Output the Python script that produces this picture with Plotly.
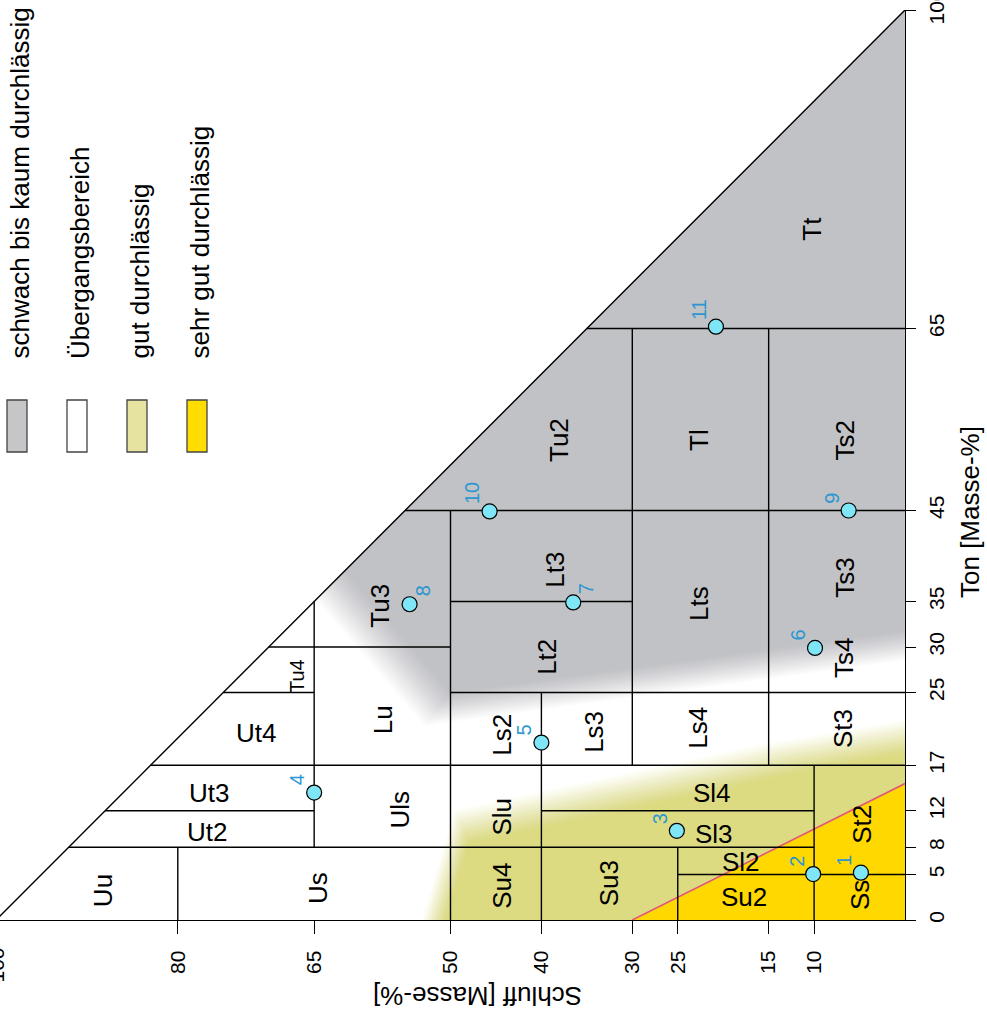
import math
import plotly.graph_objects as go

# ---------------- data (Schluff U [%], Ton T [%]) ----------------
# horizontal class boundaries: Ton value, Schluff from, Schluff to
h_T  = [5, 8, 12, 12, 17, 25, 25, 30, 35, 45, 65]
h_U0 = [0, 10, 10, 65, 0, 0, 65, 50, 30, 0, 0]
h_U1 = [25, 92, 40, 88, 83, 50, 75, 70, 50, 55, 35]
# vertical class boundaries: Schluff value, Ton from, Ton to
v_U  = [10, 15, 25, 30, 40, 50, 65, 80]
v_T0 = [0, 17, 0, 17, 0, 0, 8, 0]
v_T1 = [17, 65, 8, 65, 25, 45, 35, 8]

# soil class labels
cls_name = ["Uu", "Us", "Su4", "Su3", "Su2", "Ss", "St2", "Sl2", "Sl3", "Sl4", "Slu", "Uls",
            "Ut2", "Ut3", "Ut4", "Tu4", "Lu", "Ls2", "Ls3", "Ls4", "St3", "Lt2", "Lt3", "Lts",
            "Ts4", "Ts3", "Tu3", "Tu2", "Tl", "Ts2", "Tt"]
cls_U = [88.2, 64.6, 44.3, 32.6, 17.7, 4.95, 4.7, 18.0, 21.0, 21.2, 44.3, 55.6,
         76.8, 76.6, 71.4, 66.9, 57.5, 44.3, 34.3, 22.8, 6.8, 39.4, 38.5, 22.6,
         6.7, 6.6, 57.8, 38.0, 22.6, 6.6, 10.2]
cls_T = [3.2, 3.5, 3.8, 4.0, 2.5, 2.75, 10.5, 6.4, 9.5, 14.0, 11.4, 12.1,
         9.7, 14.0, 20.5, 26.8, 22.0, 20.4, 20.7, 21.1, 21.0, 28.9, 38.5, 34.8,
         28.8, 37.6, 34.5, 52.7, 52.7, 52.7, 76.0]
cls_horizontal = ["Su2", "Sl2", "Sl3", "Sl4", "Ut2", "Ut3", "Ut4"]
cls_small = ["Tu4"]

# sample points
pt_id = ["1", "2", "3", "4", "5", "6", "7", "8", "9", "10", "11"]
pt_U = [4.85, 10.1, 25.1, 65.0, 40.0, 9.9, 36.5, 54.5, 6.2, 45.7, 20.8]
pt_T = [5.2, 5.05, 9.8, 14.0, 19.5, 29.9, 34.9, 34.7, 45.0, 44.9, 65.2]
pt_label_right = ["7", "8"]

# permeability zones
gray_U = [0, 61.6, 50, 0]
gray_T = [100, 38.4, 25, 31.8]
olive_U = [0, 50.5, 48, 10.5, 0]
olive_T = [0, 0, 8.5, 16.5, 18.3]
yellow_U = [0, 30, 0]
yellow_T = [0, 0, 15]

legend_labels = ["schwach bis kaum durchlässig", "Übergangsbereich",
                 "gut durchlässig", "sehr gut durchlässig"]

x_ticks = [10, 15, 25, 30, 40, 50, 65, 80, 100]
y_ticks = [0, 5, 8, 12, 17, 25, 30, 35, 45, 65, 100]

# ---------------- styles ----------------
FONT = "Liberation Sans, Arial, Helvetica, sans-serif"
GRAY = (193, 194, 197)
OLIVE = (220, 219, 130)
YELLOW = "#FFD800"
gray_fade = [0, 4.5, 3.2, 0]
olive_fade = [0, 2.5, 3.8, 3.6, 0]

fig = go.Figure()


def offset_poly(xs, ys, dists):
    pts = list(zip(xs, ys))
    n = len(pts)
    area = sum(pts[i][0] * pts[(i + 1) % n][1] - pts[(i + 1) % n][0] * pts[i][1] for i in range(n))
    sgn = 1 if area > 0 else -1
    lines = []
    for i in range(n):
        (x1, y1), (x2, y2) = pts[i], pts[(i + 1) % n]
        dx, dy = x2 - x1, y2 - y1
        L = math.hypot(dx, dy)
        nx, ny = sgn * dy / L, -sgn * dx / L
        d = dists[i]
        lines.append(((x1 + nx * d, y1 + ny * d), (dx, dy)))
    out = []
    for i in range(n):
        p1, d1 = lines[i - 1]
        p2, d2 = lines[i]
        det = d1[0] * (-d2[1]) - d1[1] * (-d2[0])
        if abs(det) < 1e-12:
            out.append(p2)
            continue
        rx, ry = p2[0] - p1[0], p2[1] - p1[1]
        t = (rx * (-d2[1]) - ry * (-d2[0])) / det
        out.append((p1[0] + t * d1[0], p1[1] + t * d1[1]))
    return [p[0] for p in out], [p[1] for p in out]


def add_zone(xs, ys, rgb, fades, n=16):
    for k in range(1, n + 1):
        f = (n - k + 1) / n
        ox, oy = offset_poly(xs, ys, [d * f for d in fades])
        a = 1.0 / (n + 2 - k)
        fig.add_trace(go.Scatter(x=ox + [ox[0]], y=oy + [oy[0]], mode="none", fill="toself",
                                 fillcolor="rgba(%d,%d,%d,%.4f)" % (rgb + (a,)),
                                 hoverinfo="skip", showlegend=False))
    fig.add_trace(go.Scatter(x=list(xs) + [xs[0]], y=list(ys) + [ys[0]], mode="none",
                             fill="toself", fillcolor="rgb(%d,%d,%d)" % rgb,
                             hoverinfo="skip", showlegend=False))


add_zone(gray_U, gray_T, GRAY, gray_fade)
add_zone(olive_U, olive_T, OLIVE, olive_fade)
fig.add_trace(go.Scatter(x=yellow_U + [yellow_U[0]], y=yellow_T + [yellow_T[0]], mode="none",
                         fill="toself", fillcolor=YELLOW, hoverinfo="skip", showlegend=False))
# boundary of the very permeable zone
fig.add_trace(go.Scatter(x=[yellow_U[1], yellow_U[2]], y=[yellow_T[1], yellow_T[2]], mode="lines",
                         line=dict(color="#E2557D", width=1.6), hoverinfo="skip", showlegend=False))

# class boundary lines
lx, ly = [], []
for t, u0, u1 in zip(h_T, h_U0, h_U1):
    lx += [u0, u1, None]
    ly += [t, t, None]
for u, t0, t1 in zip(v_U, v_T0, v_T1):
    lx += [u, u, None]
    ly += [t0, t1, None]
# hypotenuse (Sand = 0)
lx += [100, 0, None]
ly += [0, 100, None]
fig.add_trace(go.Scatter(x=lx, y=ly, mode="lines", line=dict(color="black", width=1.4),
                         hoverinfo="skip", showlegend=False, cliponaxis=False))

# sample points
fig.add_trace(go.Scatter(x=pt_U, y=pt_T, mode="markers",
                         marker=dict(size=15, color="#7FE6F7", line=dict(color="black", width=1.2)),
                         showlegend=False, cliponaxis=False))

ann = []
for name, u, t in zip(cls_name, cls_U, cls_T):
    ann.append(dict(x=u, y=t, xref="x", yref="y", text=name, showarrow=False,
                    textangle=0 if name in cls_horizontal else -90,
                    font=dict(family=FONT, size=20 if name in cls_small else 26, color="black"),
                    xanchor="center", yanchor="middle"))
for pid, u, t in zip(pt_id, pt_U, pt_T):
    right = pid in pt_label_right
    ann.append(dict(x=u, y=t, xref="x", yref="y", text=pid, showarrow=False, textangle=-90,
                    font=dict(family=FONT, size=20, color="#2A96D2"),
                    xanchor="center", yanchor="bottom",
                    xshift=13 if right else -17, yshift=6 if right else 5))

# axis titles
ann.append(dict(x=970 / 905, y=(920 - 512) / 910, xref="paper", yref="paper",
                text="Ton [Masse-%]", showarrow=False, textangle=-90,
                font=dict(family=FONT, size=26, color="black"), xanchor="center", yanchor="middle"))
ann.append(dict(x=478 / 905, y=(920 - 996) / 910, xref="paper", yref="paper",
                text="Schluff [Masse-%]", showarrow=False, textangle=180,
                font=dict(family=FONT, size=26, color="black"), xanchor="center", yanchor="middle"))
# cut-off 100 label of the Schluff axis
ann.append(dict(x=-4 / 905, y=(920 - 946) / 910, xref="paper", yref="paper",
                text="100", showarrow=False, textangle=-90,
                font=dict(family=FONT, size=21, color="black"), xanchor="center", yanchor="top"))

# legend (rotated)
leg_fill = ["rgb(198,198,200)", "white", "rgb(230,226,160)", "#FFDD00"]
leg_x = [17, 77, 137, 197]
shapes = []
for lab, fc, xc in zip(legend_labels, leg_fill, leg_x):
    shapes.append(dict(type="rect", xref="paper", yref="paper",
                       x0=(xc - 10) / 905, x1=(xc + 10) / 905,
                       y0=(920 - 452) / 910, y1=(920 - 400) / 910,
                       fillcolor=fc, line=dict(color="#444", width=1.3)))
    ann.append(dict(x=(xc + 3) / 905, y=(920 - 361) / 910, xref="paper", yref="paper", text=lab,
                    showarrow=False, textangle=-90,
                    font=dict(family=FONT, size=26, color="black"),
                    xanchor="center", yanchor="bottom"))

fig.update_layout(
    width=987, height=1015,
    margin=dict(l=0, r=82, t=10, b=95, autoexpand=False),
    paper_bgcolor="white", plot_bgcolor="white",
    showlegend=False,
    annotations=ann, shapes=shapes,
    xaxis=dict(range=[905 / 9.09, 0], showgrid=False, zeroline=False, showline=True,
               linecolor="black", linewidth=1.3, ticks="outside", ticklen=13, tickwidth=1.3,
               tickcolor="black", tickvals=x_ticks, ticktext=[str(v) for v in x_ticks],
               tickangle=-90, tickfont=dict(family=FONT, size=21, color="black"),
               ticklabelstandoff=8, ticklabeloverflow="allow", automargin=False),
    yaxis=dict(range=[0, 100], side="right", showgrid=False, zeroline=False, showline=True,
               linecolor="black", linewidth=1.3, ticks="outside", ticklen=10, tickwidth=1.3,
               tickcolor="black", tickvals=y_ticks, ticktext=[str(v) for v in y_ticks],
               tickangle=-90, tickfont=dict(family=FONT, size=21, color="black"),
               ticklabelstandoff=3, ticklabeloverflow="allow", automargin=False),
)

fig.write_html("out.html", config={"displayModeBar": False},
               post_script="document.body.style.margin='0';")
